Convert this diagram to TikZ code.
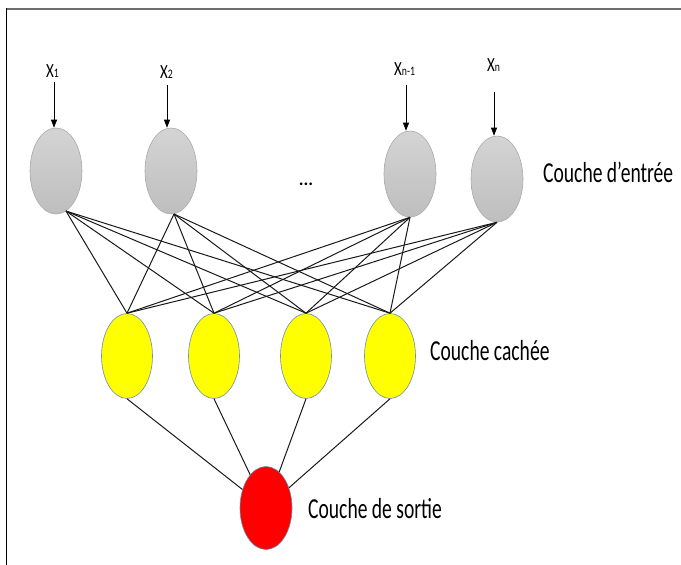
\documentclass[tikz,border=0pt]{standalone}
\usepackage{fontspec}
\setmainfont{Carlito}
\usetikzlibrary{shapes.geometric,arrows.meta}
\definecolor{ingreytop}{RGB}{212,212,212}
\definecolor{ingreybot}{RGB}{190,190,190}
\definecolor{inedge}{RGB}{170,170,170}
\definecolor{nodeedge}{RGB}{110,140,175}
\definecolor{frameline}{RGB}{110,110,110}
\tikzset{
  inneuron/.style={ellipse, minimum width=52pt, minimum height=86pt, inner sep=0pt,
    top color=ingreytop, bottom color=ingreybot, draw=inedge, line width=0.6pt},
  hidneuron/.style={ellipse, minimum width=51pt, minimum height=85pt, inner sep=0pt,
    fill={rgb,255:red,255;green,255;blue,0}, draw=nodeedge, line width=0.6pt},
  outneuron/.style={ellipse, minimum width=52pt, minimum height=83pt, inner sep=0pt,
    fill={rgb,255:red,255;green,0;blue,0}, draw=nodeedge, line width=0.6pt},
  conn/.style={draw=black!90, line width=1pt},
  inarrow/.style={draw=black, line width=0.8pt, -{Triangle[length=8pt,width=6pt]}},
  layerlabel/.style={anchor=base west, inner sep=0pt, font=\fontsize{29}{30}\selectfont},
  xlabel/.style={anchor=base west, inner sep=0pt, font=\fontsize{20}{20}\selectfont},
}
\newcommand{\narrow}[1]{\scalebox{0.675}[1]{#1}}
\newcommand{\xlab}[1]{\scalebox{0.75}[1]{X{\fontsize{13}{13}\selectfont #1}}}
\begin{document}
\begin{tikzpicture}[x=1pt,y=-1pt]
\useasboundingbox (0,0) rectangle (681,565);
% frame
\draw[frameline, line width=2pt] (6,8.5) -- (681,8.5);
\draw[black, line width=1.4pt] (6.7,8) -- (6.7,565);

% input neurons
\node[inneuron] (i1) at (56,171) {};
\node[inneuron] (i2) at (171,171) {};
\node[inneuron] (i3) at (410,174) {};
\node[inneuron] (i4) at (497,179) {};
\node[inner sep=0pt, font=\bfseries\fontsize{18}{18}\selectfont] (dots) at (306,184) {...};

% hidden neurons
\node[hidneuron] (h1) at (127,356) {};
\node[hidneuron] (h2) at (214,356) {};
\node[hidneuron] (h3) at (306,356) {};
\node[hidneuron] (h4) at (390,356) {};

% output neuron
\node[outneuron] (o) at (266,508) {};

% input labels
\node[xlabel] (lx1) at (46,77) {\xlab{1}};
\node[xlabel] (lx2) at (160,78) {\xlab{2}};
\node[xlabel] (lx3) at (394,75) {\xlab{n-1}};
\node[xlabel] (lx4) at (487,71) {\xlab{n}};

\coordinate (a1) at (54,82);
\coordinate (a2) at (167,85);
\coordinate (a3) at (406,85);
\coordinate (a4) at (494,92);
\draw[inarrow] (a1) -- (i1.north -| a1);
\draw[inarrow] (a2) -- (i2.north -| a2);
\draw[inarrow] (a3) -- (i3.north -| a3);
\draw[inarrow] (a4) -- (i4.north -| a4);

% layer labels
\node[layerlabel] (le) at (543,182) {\narrow{Couche d’entrée}};
\node[layerlabel] (lh) at (430,360) {\narrow{Couche cachée}};
\node[layerlabel] (lo) at (308,518) {\narrow{Couche de sortie}};

% input -> hidden
\foreach \h in {h1,h2,h3,h4} {
  \draw[conn] (i1.-76) -- (\h.north);
  \draw[conn] (i2.-86) -- (\h.north);
  \draw[conn] (i3.-90) -- (\h.north);
  \draw[conn] (i4.-90) -- (\h.north);
}
% hidden -> output
\foreach \h in {h1,h2,h3,h4} {
  \draw[conn] (\h.south) -- (o);
}
\end{tikzpicture}
\end{document}
